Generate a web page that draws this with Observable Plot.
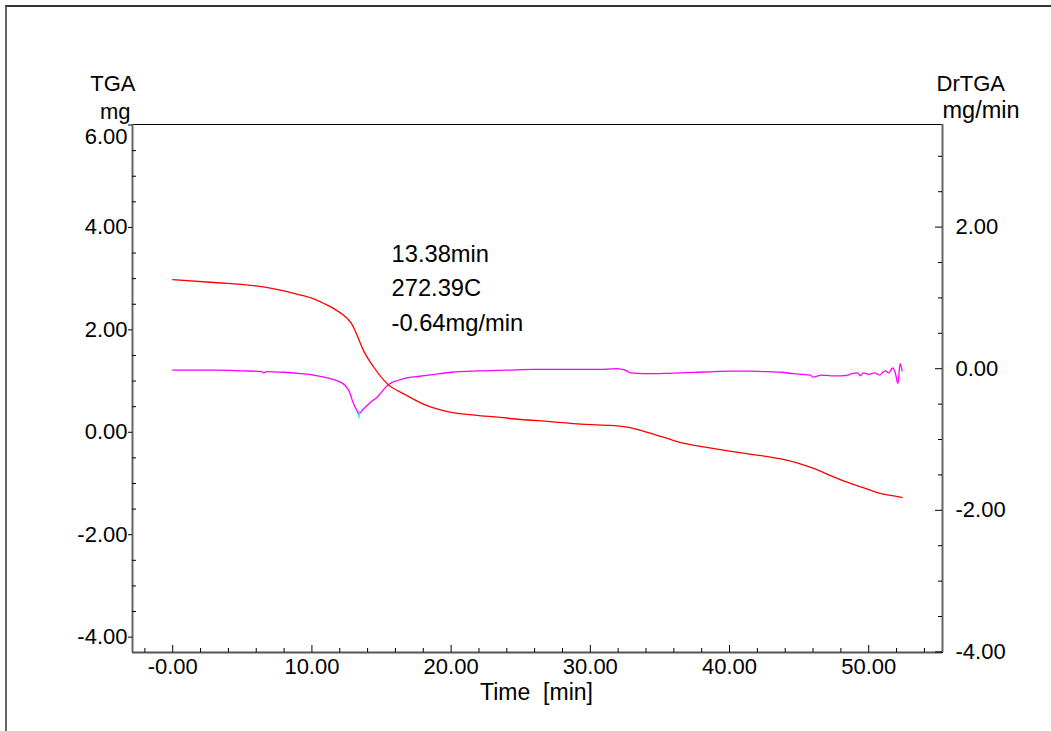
<!DOCTYPE html>
<html>
<head>
<meta charset="utf-8">
<script src="https://cdn.jsdelivr.net/npm/d3@7"></script>
<script src="https://cdn.jsdelivr.net/npm/@observablehq/plot@0.6"></script>
<style>
  body { margin: 0; background: #fff; }
  #wrap { position: relative; width: 1051px; height: 731px; overflow: hidden; background: #fff; }
  #border { position: absolute; left: 5px; top: 5px; width: 2000px; height: 2000px;
            border-left: 2px solid #666; border-top: 2px solid #333; pointer-events: none; }
  svg text { white-space: pre; }
</style>
</head>
<body>
<div id="wrap"><div id="border"></div></div>
<script>
// ---- Data ----
// TGA curve (left axis, mg) vs time (min)
const tgaTime = [0, 3.2, 5.6, 7.3, 8.9, 10.0, 10.9, 11.6, 12.3, 12.55, 12.8, 13.02, 13.25, 13.7, 14.45, 15.4, 16.6, 18.0, 20.0, 21.5, 23.5, 25.0, 27.1, 29.3, 31.0, 32.65, 34.1, 36.5, 38.9, 41.3, 43.7, 44.9, 46.1, 47.3, 48.5, 49.7, 50.9, 51.8, 52.4];
const tgaMass = [2.98, 2.92, 2.87, 2.80, 2.70, 2.62, 2.51, 2.41, 2.28, 2.22, 2.14, 2.03, 1.89, 1.60, 1.27, 0.95, 0.75, 0.55, 0.39, 0.34, 0.29, 0.25, 0.21, 0.16, 0.14, 0.10, 0.00, -0.20, -0.32, -0.42, -0.52, -0.60, -0.71, -0.85, -0.98, -1.09, -1.20, -1.24, -1.27];

// DrTGA curve (right axis, mg/min) vs time (min)
const dtgTime = [0, 1.5, 3.2, 5.0, 6.4, 6.55, 6.7, 8.0, 9.2, 10.1, 10.9, 11.5, 12.05, 12.4, 12.65, 13.0, 13.2, 13.38, 13.6, 13.97, 14.3, 14.7, 15.0, 15.4, 15.7, 16.1, 16.8, 17.6, 18.8, 20.0, 22.0, 24.0, 26.0, 28.0, 29.3, 30.5, 31.9, 32.3, 32.6, 32.9, 33.8, 34.8, 35.6, 36.5, 37.7, 38.9, 40.1, 41.3, 42.5, 43.7, 44.6, 45.3, 45.8, 46.0, 46.6, 47.3, 48.0, 48.5, 48.8, 49.2, 49.4, 49.6, 50.0, 50.4, 50.8, 51.0, 51.2, 51.45, 51.7, 51.9, 52.1, 52.25, 52.4];
const dtgRate = [-0.02, -0.02, -0.02, -0.03, -0.04, -0.06, -0.04, -0.05, -0.07, -0.09, -0.12, -0.15, -0.19, -0.24, -0.31, -0.50, -0.58, -0.64, -0.59, -0.52, -0.46, -0.40, -0.33, -0.24, -0.20, -0.17, -0.13, -0.11, -0.08, -0.05, -0.03, -0.02, -0.01, -0.01, -0.01, -0.01, 0.00, -0.01, -0.03, -0.06, -0.07, -0.07, -0.065, -0.06, -0.05, -0.04, -0.035, -0.035, -0.04, -0.05, -0.07, -0.08, -0.09, -0.12, -0.09, -0.10, -0.10, -0.09, -0.07, -0.06, -0.10, -0.06, -0.08, -0.06, -0.09, -0.05, -0.03, -0.06, 0.01, -0.05, -0.21, 0.07, -0.03];

// Peak annotation
const peakTime = [13.38];
const peakRate = [-0.64];
const annotationLines = ["13.38min", "272.39C", "-0.64mg/min"];

// Axis ticks and labels
const xTickValues = [0, 10, 20, 30, 40, 50];
const xTickLabels = ["-0.00", "10.00", "20.00", "30.00", "40.00", "50.00"];
const leftTickValues = [-4, -2, 0, 2, 4, 6];
const leftTickLabels = ["-4.00", "-2.00", "0.00", "2.00", "4.00", "6.00"];
const rightTickValues = [-4, -2, 0, 2];
const rightTickLabels = ["-4.00", "-2.00", "0.00", "2.00"];
const leftTitle = ["TGA", "mg"];
const rightTitle = ["DrTGA", "mg/min"];
const xTitle = "Time  [min]";

// ---- Scales ----
const xDomain = [-2.89, 55.30];
const leftDomain = [-4.30, 6.01];
const rightDomain = [-4.008, 3.449];
const toLeft = d3.scaleLinear().domain(rightDomain).range(leftDomain);

const W = 1051, H = 731, mL = 132, mR = 109, mT = 124, mB = 79;
const plotW = W - mL - mR, plotH = H - mT - mB;

const tga = tgaTime.map((t, i) => ({t, v: tgaMass[i]}));
const dtg = dtgTime.map((t, i) => ({t, v: toLeft(dtgRate[i])}));
const peak = peakTime.map((t, i) => ({t, y1: toLeft(peakRate[i] + 0.05), y2: toLeft(peakRate[i] - 0.06)}));

const xMinor = d3.range(-2, 55, 2).filter(v => v % 10 !== 0);
const leftMinor = d3.range(-4, 6.01, 0.5).filter(v => v % 2 !== 0);
const rightMinor = d3.range(-4, 3.01, 0.5).filter(v => v % 2 !== 0);

const font = "Arial, 'Liberation Sans', sans-serif";
const T = {fill: "#000", lineAnchor: "middle"};

const chart = Plot.plot({
  width: W, height: H,
  marginLeft: mL, marginRight: mR, marginTop: mT, marginBottom: mB,
  style: {fontFamily: font, fontSize: "22px", background: "transparent", color: "#000"},
  x: {domain: xDomain, axis: null},
  y: {domain: leftDomain, axis: null},
  marks: [
    Plot.frame({stroke: "#000", strokeWidth: 1}),
    Plot.ruleX([xDomain[0], xDomain[1]], {x: d => d, stroke: "#666", strokeWidth: 2}),
    Plot.ruleY([leftDomain[0]], {y: d => d, stroke: "#555", strokeWidth: 2}),
    // bottom ticks (inward)
    Plot.ruleX(xTickValues, {x: d => d, insetTop: plotH - 7, stroke: "#000"}),
    Plot.ruleX(xMinor, {x: d => d, insetTop: plotH - 4, stroke: "#000"}),
    // left ticks: major outward, minor inward
    Plot.ruleY(leftTickValues, {y: d => d, insetLeft: -4, insetRight: plotW, stroke: "#000"}),
    Plot.ruleY(leftMinor, {y: d => d, insetRight: plotW - 4, stroke: "#000"}),
    // right ticks inward
    Plot.ruleY(rightTickValues, {y: d => toLeft(d), insetLeft: plotW - 7, stroke: "#000"}),
    Plot.ruleY(rightMinor, {y: d => toLeft(d), insetLeft: plotW - 4, stroke: "#000"}),
    // tick labels
    Plot.text(xTickValues, {...T, x: d => d, text: (d, i) => xTickLabels[i], frameAnchor: "bottom", dy: 14}),
    Plot.text(leftTickValues.filter(d => d < 6), {...T, y: d => d, text: d => leftTickLabels[leftTickValues.indexOf(d)], frameAnchor: "left", textAnchor: "end", dx: -5}),
    Plot.text(leftTickValues.filter(d => d >= 6), {...T, y: d => d, text: d => leftTickLabels[leftTickValues.indexOf(d)], frameAnchor: "left", textAnchor: "end", dx: -5, dy: 12}),
    Plot.text(rightTickValues, {...T, y: d => toLeft(d), text: (d, i) => rightTickLabels[i], frameAnchor: "right", textAnchor: "start", dx: 13}),
    // axis titles
    Plot.text([leftTitle[0]], {...T, text: d => d, frameAnchor: "top-left", textAnchor: "end", dx: 3, dy: -41}),
    Plot.text([leftTitle[1]], {...T, text: d => d, frameAnchor: "top-left", textAnchor: "end", dx: -2, dy: -13}),
    Plot.text([rightTitle[0]], {...T, text: d => d, frameAnchor: "top-right", textAnchor: "start", dx: -6, dy: -41}),
    Plot.text([rightTitle[1]], {...T, text: d => d, frameAnchor: "top-right", textAnchor: "start", dx: 0, dy: -14, fontSize: 23.5}),
    Plot.text([xTitle], {...T, text: d => d, frameAnchor: "bottom", textAnchor: "middle", dx: -1, dy: 40, fontSize: 23}),
    // curves
    Plot.line(dtg, {x: "t", y: "v", stroke: "#ff00ff", strokeWidth: 1.3, curve: "monotone-x"}),
    Plot.line(tga, {x: "t", y: "v", stroke: "#ff0000", strokeWidth: 1.3, curve: "monotone-x"}),
    Plot.link(peak, {x1: "t", x2: "t", y1: "y1", y2: "y2", stroke: "#00e5ff", strokeWidth: 1.3}),
    // annotation
    Plot.text([annotationLines.join("\n")], {text: d => d, x: () => 15.72, y: () => 3.80, textAnchor: "start", lineAnchor: "top", lineHeight: 1.45, fontSize: 23.7, fill: "#000"})
  ]
});

document.getElementById("wrap").prepend(chart);
</script>
</body>
</html>
